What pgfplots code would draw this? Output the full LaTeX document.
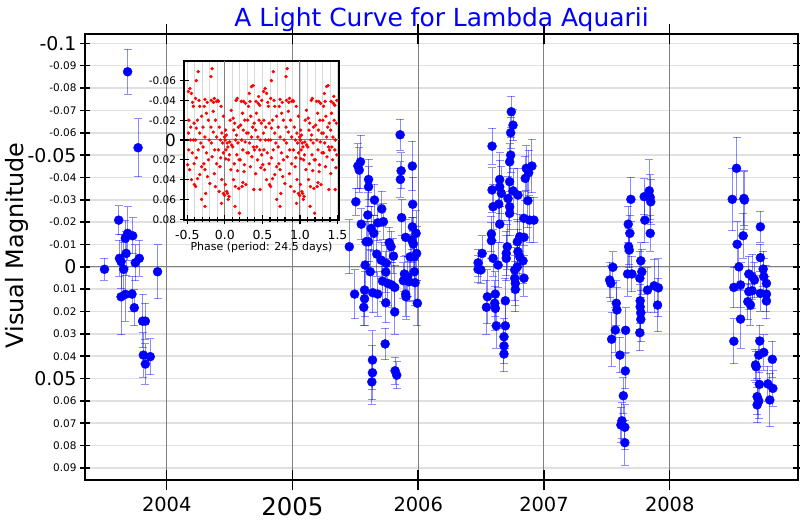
\documentclass[border=0pt]{standalone}
\usepackage{fontspec}
\setmainfont{DejaVu Sans}
\usepackage{pgfplots}
\usepackage{pgfplotstable}
\pgfplotsset{compat=1.18}
\newcommand{\fs}[1]{\fontsize{#1}{#1}\selectfont}

\pgfplotstableread{
x y e
2003.505 0.0011 0.005
2003.618 -0.0209 0.0065
2003.624 -0.0038 0.008
2003.637 -0.0023 0.012
2003.637 0.0134 0.017
2003.658 0.0011 0.012
2003.671 -0.0128 0.008
2003.671 0.0123 0.012
2003.677 -0.0060 0.010
2003.689 -0.0873 0.010
2003.689 -0.0150 0.012
2003.724 0.0122 0.008
2003.729 -0.0139 0.008
2003.742 0.0183 0.008
2003.750 -0.0018 0.008
2003.772 -0.0533 0.013
2003.782 -0.0038 0.008
2003.808 0.0243 0.012
2003.814 0.0395 0.010
2003.830 0.0243 0.008
2003.830 0.0435 0.009
2003.869 0.0402 0.008
2003.927 0.0022 0.012
2005.452 -0.0090 0.012
2005.494 0.0122 0.011
2005.504 -0.0291 0.006
2005.520 -0.0451 0.010
2005.531 -0.0433 0.010
2005.541 -0.0470 0.012
2005.547 -0.0191 0.007
2005.573 0.0104 0.012
2005.573 0.0143 0.012
2005.567 0.0181 0.008
2005.578 -0.0008 0.010
2005.586 -0.0112 0.009
2005.605 -0.0112 0.009
2005.618 0.0022 0.010
2005.599 -0.0232 0.010
2005.605 -0.0391 0.009
2005.605 -0.0358 0.009
2005.626 -0.0172 0.010
2005.639 0.0116 0.009
2005.647 -0.0150 0.008
2005.652 -0.0299 0.007
2005.636 0.0417 0.013
2005.636 0.0474 0.012
2005.631 0.0515 0.010
2005.670 -0.0057 0.010
2005.678 0.0122 0.010
2005.678 -0.0197 0.008
2005.705 -0.0030 0.008
2005.710 -0.0259 0.008
2005.716 0.0064 0.009
2005.723 -0.0202 0.008
2005.742 0.0023 0.009
2005.745 -0.0016 0.008
2005.742 0.0161 0.009
2005.737 0.0345 0.007
2005.758 0.0074 0.010
2005.769 -0.0108 0.007
2005.784 -0.0090 0.007
2005.789 0.0081 0.010
2005.803 -0.0048 0.008
2005.813 0.0092 0.010
2005.813 0.0202 0.010
2005.816 0.0465 0.006
2005.829 0.0485 0.006
2005.856 -0.0591 0.007
2005.864 -0.0430 0.008
2005.858 -0.0391 0.008
2005.868 -0.0220 0.008
2005.900 -0.0132 0.008
2005.890 0.0032 0.008
2005.882 0.0062 0.008
2005.900 0.0122 0.010
2005.903 0.0134 0.010
2005.916 0.0044 0.009
2005.927 0.0067 0.009
2005.935 -0.0045 0.010
2005.948 -0.0120 0.010
2005.953 -0.0451 0.011
2005.956 -0.0280 0.012
2005.953 -0.0179 0.010
2005.961 -0.0102 0.012
2005.969 0.0022 0.013
2005.969 -0.0045 0.012
2005.975 0.0071 0.010
2005.983 -0.0150 0.010
2005.987 -0.0060 0.012
2005.993 0.0163 0.010
2006.740 -0.0694 0.007
2006.754 -0.0634 0.007
2006.735 -0.0600 0.007
2006.587 -0.0540 0.008
2006.735 -0.0500 0.008
2006.727 -0.0470 0.008
2006.904 -0.0451 0.012
2006.859 -0.0441 0.010
2006.878 -0.0421 0.010
2006.851 -0.0396 0.010
2006.648 -0.0391 0.012
2006.727 -0.0381 0.010
2006.648 -0.0358 0.012
2006.587 -0.0344 0.010
2006.754 -0.0340 0.010
2006.661 -0.0329 0.012
2006.793 -0.0321 0.012
2006.714 -0.0306 0.010
2006.872 -0.0296 0.012
2006.640 -0.0281 0.010
2006.595 -0.0269 0.010
2006.727 -0.0269 0.010
2006.727 -0.0239 0.010
2006.841 -0.0217 0.012
2006.886 -0.0209 0.010
2006.920 -0.0209 0.010
2006.648 -0.0191 0.008
2006.582 -0.0147 0.008
2006.807 -0.0135 0.010
2006.841 -0.0132 0.008
2006.582 -0.0117 0.008
2006.788 -0.0112 0.010
2006.708 -0.0090 0.010
2006.508 -0.0060 0.008
2006.700 -0.0060 0.010
2006.793 -0.0068 0.010
2006.595 -0.0038 0.008
2006.700 -0.0038 0.010
2006.807 -0.0045 0.010
2006.833 -0.0027 0.010
2006.476 -0.0018 0.006
2006.635 -0.0008 0.010
2006.476 0.0011 0.006
2006.498 0.0014 0.006
2006.767 0.0014 0.010
2006.788 0.0000 0.010
2006.841 0.0051 0.008
2006.767 0.0051 0.010
2006.772 0.0074 0.010
2006.772 0.0101 0.010
2006.550 0.0134 0.012
2006.613 0.0122 0.010
2006.693 0.0152 0.010
2006.542 0.0181 0.012
2006.608 0.0163 0.010
2006.613 0.0186 0.010
2006.621 0.0264 0.010
2006.693 0.0264 0.010
2006.682 0.0313 0.008
2006.682 0.0354 0.008
2006.682 0.0390 0.008
2007.691 -0.0302 0.010
2007.797 -0.0314 0.008
2007.837 -0.0340 0.014
2007.845 -0.0311 0.010
2007.849 -0.0291 0.010
2007.802 -0.0209 0.010
2007.670 -0.0191 0.008
2007.683 -0.0150 0.008
2007.845 -0.0150 0.008
2007.673 -0.0090 0.008
2007.678 -0.0075 0.008
2007.770 -0.0027 0.008
2007.548 0.0002 0.007
2007.778 0.0022 0.010
2007.665 0.0032 0.010
2007.699 0.0032 0.008
2007.762 0.0051 0.012
2007.522 0.0059 0.008
2007.532 0.0074 0.008
2007.823 0.0104 0.010
2007.876 0.0085 0.012
2007.910 0.0094 0.013
2007.765 0.0152 0.010
2007.575 0.0163 0.010
2007.765 0.0179 0.010
2007.580 0.0193 0.010
2007.903 0.0171 0.012
2007.770 0.0205 0.010
2007.770 0.0235 0.010
2007.567 0.0283 0.010
2007.649 0.0284 0.010
2007.762 0.0295 0.008
2007.538 0.0324 0.012
2007.604 0.0395 0.008
2007.647 0.0466 0.008
2007.631 0.0577 0.008
2007.620 0.0689 0.008
2007.612 0.0708 0.008
2007.643 0.0718 0.010
2007.643 0.0787 0.010
2008.531 -0.0441 0.014
2008.497 -0.0302 0.014
2008.590 -0.0306 0.012
2008.594 -0.0299 0.013
2008.721 -0.0179 0.007
2008.584 -0.0139 0.010
2008.536 -0.0101 0.010
2008.721 -0.0041 0.006
2008.550 0.0000 0.010
2008.743 0.0010 0.008
2008.629 0.0032 0.008
2008.655 0.0044 0.010
2008.748 0.0044 0.008
2008.674 0.0059 0.008
2008.769 0.0074 0.008
2008.510 0.0092 0.009
2008.563 0.0081 0.010
2008.629 0.0111 0.008
2008.655 0.0107 0.008
2008.721 0.0119 0.008
2008.769 0.0122 0.008
2008.621 0.0156 0.008
2008.642 0.0171 0.009
2008.769 0.0153 0.008
2008.563 0.0234 0.013
2008.510 0.0333 0.010
2008.716 0.0332 0.007
2008.748 0.0383 0.008
2008.708 0.0395 0.008
2008.682 0.0439 0.007
2008.687 0.0447 0.007
2008.816 0.0414 0.008
2008.713 0.0526 0.008
2008.780 0.0524 0.008
2008.820 0.0544 0.008
2008.695 0.0581 0.008
2008.708 0.0600 0.008
2008.695 0.0618 0.008
2008.796 0.0596 0.012
}\maindata

\pgfplotstableread{
p m
0.010 -0.010
0.020 -0.005
0.004 0.000
0.030 0.003
0.040 0.007
0.015 0.010
0.060 0.015
0.050 0.020
0.080 0.030
0.006 0.045
0.025 0.052
0.035 0.054
0.055 0.057
0.045 0.060
0.070 -0.020
0.090 0.005
0.085 -0.030
0.065 0.002
0.012 0.019
0.150 -0.040
0.165 -0.042
0.110 -0.022
0.130 -0.017
0.180 -0.013
0.120 -0.010
0.145 0.000
0.175 0.003
0.105 0.007
0.160 0.015
0.190 0.020
0.125 0.024
0.170 0.031
0.115 0.040
0.140 0.047
0.185 0.049
0.135 0.067
0.195 0.074
0.155 -0.005
0.220 -0.039
0.250 -0.039
0.275 -0.037
0.235 -0.027
0.265 -0.020
0.210 -0.015
0.245 -0.010
0.290 -0.007
0.225 0.000
0.270 0.002
0.240 0.010
0.295 0.013
0.205 0.020
0.260 0.025
0.240 0.043
0.280 0.045
0.230 0.047
0.255 0.032
0.315 -0.034
0.335 -0.039
0.355 -0.054
0.375 -0.055
0.325 -0.047
0.345 -0.024
0.370 -0.013
0.390 -0.017
0.310 -0.007
0.355 -0.003
0.330 0.003
0.380 0.007
0.315 0.013
0.360 0.017
0.395 0.010
0.340 0.027
0.385 0.050
0.305 -0.020
0.415 -0.039
0.445 -0.037
0.465 -0.035
0.490 -0.040
0.420 -0.027
0.455 -0.020
0.485 -0.017
0.410 -0.010
0.440 -0.003
0.470 0.000
0.425 0.007
0.465 0.010
0.490 0.015
0.435 0.020
0.470 0.050
0.410 0.034
0.450 -0.044
0.480 0.028
0.515 -0.049
0.535 -0.052
0.555 -0.047
0.580 -0.034
0.520 -0.020
0.545 -0.013
0.590 -0.017
0.515 -0.007
0.540 0.000
0.580 0.000
0.520 0.010
0.565 0.013
0.590 0.024
0.530 0.030
0.555 0.040
0.505 0.025
0.570 -0.038
0.595 0.045
0.620 -0.060
0.645 -0.069
0.610 -0.042
0.665 -0.034
0.690 -0.024
0.635 -0.020
0.620 -0.012
0.665 -0.007
0.610 0.000
0.680 0.003
0.645 0.010
0.620 0.018
0.690 0.027
0.665 0.035
0.635 0.039
0.610 0.047
0.690 0.060
0.655 -0.040
0.735 -0.041
0.725 -0.034
0.755 -0.027
0.780 -0.020
0.710 -0.013
0.735 -0.003
0.790 0.000
0.710 0.007
0.755 0.013
0.780 0.020
0.735 0.030
0.770 0.037
0.800 0.044
0.745 0.054
0.735 0.067
0.765 -0.038
0.720 0.024
0.820 -0.040
0.860 -0.042
0.890 -0.039
0.845 -0.029
0.875 -0.020
0.815 -0.013
0.845 -0.008
0.890 -0.003
0.820 0.003
0.865 0.010
0.830 0.017
0.890 0.024
0.860 0.034
0.875 0.047
0.830 -0.072
0.815 -0.064
0.850 -0.038
0.915 -0.039
0.950 -0.034
0.980 -0.024
0.925 -0.013
0.960 -0.007
0.995 -0.003
0.940 0.000
0.970 0.003
0.915 0.010
0.980 0.013
0.935 0.027
0.960 0.040
0.925 0.052
0.980 0.054
0.995 0.056
0.955 0.064
0.905 -0.040
0.945 0.018
}\phasedata

\begin{document}
\begin{tikzpicture}
\path[use as bounding box] (0,0) rectangle (800bp,520bp);
\begin{axis}[
  at={(85bp,40bp)}, anchor=south west,
  scale only axis, width=713bp, height=446bp,
  xmin=2003.35, xmax=2009.02,
  ymin=-0.1042, ymax=0.0954, y dir=reverse,
  axis line style={line width=2.5bp},
  tick align=center, tick pos=both,
  major tick length=10bp,
  xtick style={/pgfplots/major tick length=20bp, line width=1.5bp, black},
  ytick style={line width=1.5bp, black},
  xtick={2004,2005,2006,2007,2008},
  xticklabels={2004,{\fs{24.5}2005},2006,2007,2008},
  xticklabel style={font=\fs{19.5}, yshift=-9bp},
  scaled ticks=false,
  ytick={-0.1,-0.09,-0.08,-0.07,-0.06,-0.05,-0.04,-0.03,-0.02,-0.01,0,0.01,0.02,0.03,0.04,0.05,0.06,0.07,0.08,0.09},
  yticklabels={{\fs{19}-0.1},-0.09,-0.08,-0.07,-0.06,{\fs{19}-0.05},-0.04,-0.03,-0.02,-0.01,{\fs{19}0},0.01,0.02,0.03,0.04,{\fs{19}0.05},0.06,0.07,0.08,0.09},
  yticklabel style={font=\fs{10.5}},
  ymajorgrids,
  major grid style={color=black!12, line width=1.5bp},
  extra x ticks={2004,2005,2006,2007,2008},
  extra x tick labels={},
  extra x tick style={grid=major, major grid style={color=black!50, line width=1bp}},
  extra y ticks={0},
  extra y tick labels={},
  extra y tick style={grid=major, major grid style={color=black!50, line width=1bp}},
  title={A Light Curve for Lambda Aquarii},
  title style={at={(0.5,1)}, anchor=base, yshift=2bp, font=\fs{25}, text=blue},
  ylabel={Visual Magnitude},
  ylabel style={at={(axis description cs:-0.0856,0.526)}, anchor=base, font=\fs{24}},
]
\addplot[only marks, mark=*, mark size=4.5bp, color=blue, mark options={fill=blue, draw=blue},
  error bars/.cd, y dir=both, y explicit,
  error bar style={color=blue, opacity=0.45, line width=1bp},
  error mark options={rotate=90, mark size=4bp, blue, opacity=0.45, line width=1bp}]
  table[x=x, y=y, y error=e] {\maindata};
\end{axis}

\begin{axis}[
  at={(184bp,300bp)}, anchor=south west,
  scale only axis, width=155bp, height=159bp,
  xmin=-0.544, xmax=1.52, ymin=-0.0798, ymax=0.0808, y dir=reverse,
  axis background/.style={fill=white},
  axis line style={line width=2bp},
  xtick pos=left, ytick pos=left,
  tick align=center,
  major tick length=9bp, minor tick length=5bp,
  tick style={black, line width=1.2bp},
  scaled ticks=false,
  xtick={-0.5,0,0.5,1,1.5},
  xticklabels={-0.5,0.0,0.5,1.0,1.5},
  xticklabel style={font=\fs{12.5}, yshift=-2bp},
  minor xtick={-0.4,-0.3,-0.2,-0.1,0.1,0.2,0.3,0.4,0.6,0.7,0.8,0.9,1.1,1.2,1.3,1.4},
  xminorgrids, xmajorgrids,
  minor grid style={color=black!15, line width=0.8bp},
  major grid style={color=black!15, line width=0.8bp},
  ytick={-0.06,-0.04,-0.02,0,0.02,0.04,0.06,0.08},
  yticklabels={-0.06,-0.04,-0.02,{\fs{17}0},0.02,0.04,0.06,0.08},
  yticklabel style={font=\fs{10.5}},
  extra x ticks={0,1},
  extra x tick labels={},
  extra x tick style={grid=major, major grid style={color=black!50, line width=1bp}},
  extra y ticks={0},
  extra y tick labels={},
  extra y tick style={grid=major, major grid style={color=black!50, line width=1bp}},
  xlabel={Phase (period: 24.5 days)},
  xlabel style={at={(axis description cs:0.5,-0.193)}, anchor=base, font=\fs{11}},
]
\addplot[only marks, mark=*, mark size=1.5bp, red, restrict x to domain=-0.5:1.5]
  table[x expr=\thisrow{p}-1, y=m] {\phasedata};
\addplot[only marks, mark=*, mark size=1.5bp, red, restrict x to domain=-0.5:1.5]
  table[x=p, y=m] {\phasedata};
\addplot[only marks, mark=*, mark size=1.5bp, red, restrict x to domain=-0.5:1.5]
  table[x expr=\thisrow{p}+1, y=m] {\phasedata};
\end{axis}
\end{tikzpicture}
\end{document}
